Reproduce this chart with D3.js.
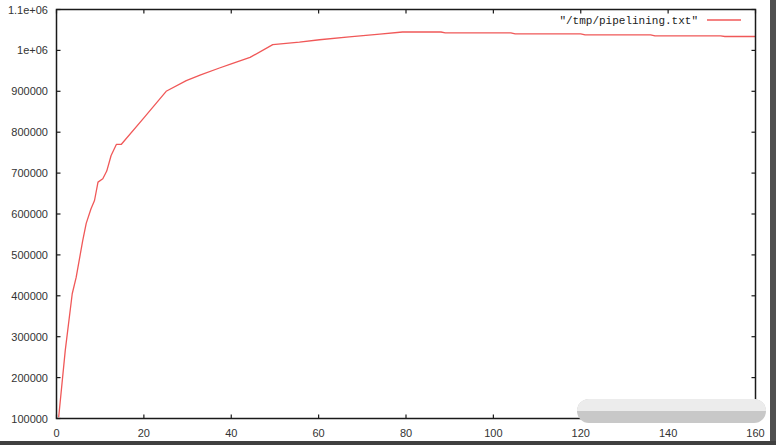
<!DOCTYPE html>
<html>
<head>
<meta charset="utf-8">
<script src="https://cdn.jsdelivr.net/npm/d3@7/dist/d3.min.js"></script>
<style>
html,body{margin:0;padding:0;background:#fff;}
svg{display:block;}
</style>
</head>
<body>
<svg id="chart" width="776" height="445"></svg>
<script>
// Data
const xValues = [0.5, 2, 3.6, 4.5, 6, 6.8, 7.9, 8.7, 9.5, 10.6, 11.5, 12.5, 13.7, 14.8, 20, 25.1, 29.7, 33, 37.3, 40, 44.3, 49.5, 55.6, 60.2, 67, 74, 79.2, 88, 89, 104, 105, 120, 121, 136, 137, 152, 153, 160];
const yValues = [103000, 266000, 405000, 445000, 535000, 577000, 613000, 633000, 678000, 686000, 705000, 743000, 770000, 770000, 835000, 900000, 926000, 940000, 957000, 967000, 983000, 1014000, 1020000, 1026000, 1033000, 1040000, 1045000, 1045000, 1043000, 1043000, 1040500, 1040500, 1038000, 1038000, 1035500, 1035500, 1034000, 1034000];
const xTicks = [0, 20, 40, 60, 80, 100, 120, 140, 160];
const yTicks = [100000, 200000, 300000, 400000, 500000, 600000, 700000, 800000, 900000, 1000000, 1100000];
const yTickLabels = ["100000", "200000", "300000", "400000", "500000", "600000", "700000", "800000", "900000", "1e+06", "1.1e+06"];
const seriesName = '"/tmp/pipelining.txt"';

const svg = d3.select("#chart");
const L = 56.5, R = 755.5, T = 9.5, B = 418.5;
const x = d3.scaleLinear().domain([0, 160]).range([L, R]);
const y = d3.scaleLinear().domain([100000, 1100000]).range([B, T]);

const font = "'Liberation Sans', Arial, sans-serif";
const axisColor = "#1a1a1a";
const lineColor = "#f05858";
const tickLen = 4;

// ticks (mirrored, inward)
const g = svg.append("g");
xTicks.forEach(t => {
  g.append("line").attr("x1", x(t)).attr("x2", x(t)).attr("y1", B).attr("y2", B - tickLen).attr("stroke", axisColor).attr("stroke-width", 1.2);
  g.append("line").attr("x1", x(t)).attr("x2", x(t)).attr("y1", T).attr("y2", T + tickLen).attr("stroke", axisColor).attr("stroke-width", 1.2);
  g.append("text").attr("x", x(t)).attr("y", 437).attr("text-anchor", "middle")
    .attr("font-family", font).attr("font-size", 11).attr("fill", "#333").text(String(t));
});
yTicks.forEach((t, i) => {
  g.append("line").attr("x1", L).attr("x2", L + tickLen).attr("y1", y(t)).attr("y2", y(t)).attr("stroke", axisColor).attr("stroke-width", 1.2);
  g.append("line").attr("x1", R).attr("x2", R - tickLen).attr("y1", y(t)).attr("y2", y(t)).attr("stroke", axisColor).attr("stroke-width", 1.2);
  g.append("text").attr("x", 48).attr("y", y(t) + 4).attr("text-anchor", "end")
    .attr("font-family", font).attr("font-size", 11).attr("fill", "#333").text(yTickLabels[i]);
});

// data line
const pts = xValues.map((v, i) => [v, yValues[i]]);
const line = d3.line().x(d => x(d[0])).y(d => y(d[1]));
svg.append("path").datum(pts).attr("d", line).attr("fill", "none")
  .attr("stroke", lineColor).attr("stroke-width", 1.3).attr("stroke-linejoin", "round");

// frame
svg.append("rect").attr("x", L).attr("y", T).attr("width", R - L).attr("height", B - T)
  .attr("fill", "none").attr("stroke", axisColor).attr("stroke-width", 1.5);

// legend
svg.append("text").attr("x", 698).attr("y", 24).attr("text-anchor", "end")
  .attr("font-family", "'Liberation Mono', 'DejaVu Sans Mono', monospace").attr("font-size", 11).attr("fill", "#222")
  .text(seriesName);
svg.append("line").attr("x1", 707).attr("x2", 741).attr("y1", 20).attr("y2", 20)
  .attr("stroke", lineColor).attr("stroke-width", 1.3);

// screenshot decorations: blurred watermark and dark edge
const wm = svg.append("g");
wm.append("rect").attr("x", 577).attr("y", 399).attr("width", 189).attr("height", 24).attr("rx", 12).attr("fill", "#c8c8c8");
wm.append("path").attr("d", "M589,399 H754 A12,12 0 0 1 766,411 H577 A12,12 0 0 1 589,399 Z").attr("fill", "#ececec");
svg.append("rect").attr("x", 770).attr("y", 0).attr("width", 6).attr("height", 445).attr("fill", "#505050");
svg.append("rect").attr("x", 0).attr("y", 441).attr("width", 776).attr("height", 4).attr("fill", "#404040");
</script>
</body>
</html>
